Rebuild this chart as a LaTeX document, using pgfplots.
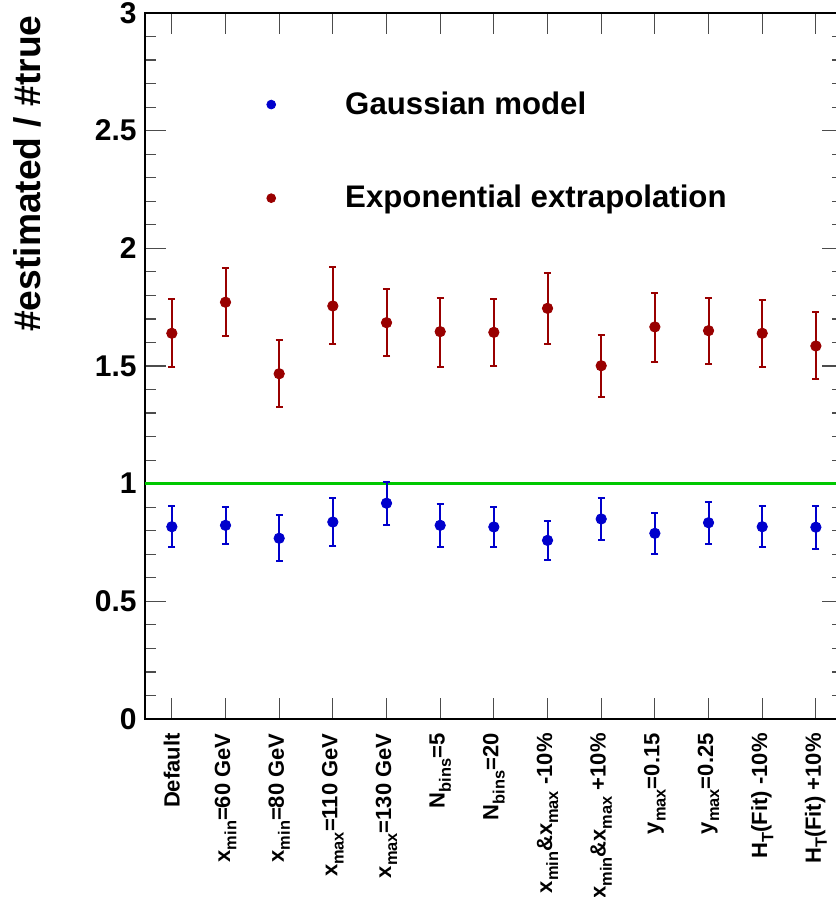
\documentclass[border=0pt]{standalone}
\usepackage{fontspec}
\setmainfont{Liberation Sans}
\usepackage{pgfplots}
\usepackage{pgfplotstable}
\pgfplotsset{compat=1.18}
\definecolor{rootred}{RGB}{153,0,0}
\definecolor{rootblue}{RGB}{0,0,204}
\definecolor{rootgreen}{RGB}{0,200,0}
\newcommand\sub[1]{\raisebox{-0.28em}{\fontsize{8.2}{9}\selectfont #1}}

\pgfplotstableread{
x y ep em
0 0.817 0.088 0.087
1 0.823 0.079 0.079
2 0.768 0.098 0.097
3 0.837 0.103 0.102
4 0.917 0.091 0.093
5 0.823 0.092 0.092
6 0.816 0.085 0.086
7 0.759 0.084 0.083
8 0.850 0.090 0.091
9 0.789 0.088 0.088
10 0.834 0.088 0.089
11 0.817 0.088 0.087
12 0.815 0.090 0.093
}\gausstable

\pgfplotstableread{
x y ep em
0 1.639 0.144 0.142
1 1.771 0.147 0.144
2 1.467 0.144 0.141
3 1.755 0.164 0.163
4 1.684 0.143 0.142
5 1.646 0.144 0.149
6 1.643 0.140 0.142
7 1.745 0.152 0.151
8 1.501 0.132 0.131
9 1.666 0.146 0.148
10 1.650 0.140 0.143
11 1.639 0.143 0.142
12 1.585 0.143 0.139
}\exptable

\begin{document}
\begin{tikzpicture}
\begin{axis}[
  at={(0,0)}, anchor=south west,
  scale only axis, width=348.85pt, height=353pt,
  xmin=-0.5, xmax=12.5, ymin=0, ymax=3,
  xtick={0,...,12},
  xticklabels={{Default},
    {x\sub{min}=60 GeV},
    {x\sub{min}=80 GeV},
    {x\sub{max}=110 GeV},
    {x\sub{max}=130 GeV},
    {N\sub{bins}=5},
    {N\sub{bins}=20},
    {x\sub{min}\&x\sub{max} -10\%},
    {x\sub{min}\&x\sub{max} +10\%},
    {y\sub{max}=0.15},
    {y\sub{max}=0.25},
    {H\sub{T}(Fit) -10\%},
    {H\sub{T}(Fit) +10\%}},
  ytick={0,0.5,1,1.5,2,2.5,3},
  minor y tick num=4,
  major tick length=10.5pt, minor tick length=5.5pt,
  tick style={black!70, line width=0.6pt},
  axis line style={line width=1pt},
  /pgf/number format/assume math mode=true,
  yticklabel style={font=\fontsize{15}{18}\selectfont\bfseries, inner xsep=4pt},
  xticklabel style={font=\fontsize{11}{13}\selectfont\bfseries, rotate=90, anchor=east, inner xsep=7pt},
  ylabel={\#estimated / \#true},
  ylabel style={font=\fontsize{18.6}{21}\selectfont\bfseries, at={(axis description cs:-0.1691,0.9972)}, anchor=east, inner sep=0pt},
  legend style={at={(axis description cs:0.5067,0.804)}, anchor=center, draw=none, fill=none,
    font=\fontsize{15.6}{18}\selectfont\bfseries, row sep=30pt, cells={anchor=west}, inner sep=0pt},
  legend image code/.code={\path[draw=none,fill=none] (0pt,0pt) -- (35pt,0pt); \fill (0pt,0pt) circle (2.2pt);},
]
\addplot[rootgreen, line width=1.5pt, forget plot] coordinates {(-0.5,1) (12.5,1)};
\addplot[only marks, color=rootblue, mark=*, mark size=2.6pt,
  error bars/.cd, y dir=both, y explicit,
  error bar style={line width=1pt},
  error mark options={rotate=90, mark size=1.8pt, line width=1pt}]
  table[x=x, y=y, y error plus=ep, y error minus=em] {\gausstable};
\addlegendentry{Gaussian model}
\addplot[only marks, color=rootred, mark=*, mark size=2.6pt,
  error bars/.cd, y dir=both, y explicit,
  error bar style={line width=1pt},
  error mark options={rotate=90, mark size=1.8pt, line width=1pt}]
  table[x=x, y=y, y error plus=ep, y error minus=em] {\exptable};
\addlegendentry{Exponential extrapolation}
\end{axis}
\pgfresetboundingbox
\useasboundingbox (-72.5pt,-89pt) rectangle (345pt,359.5pt);
\end{tikzpicture}
\end{document}
